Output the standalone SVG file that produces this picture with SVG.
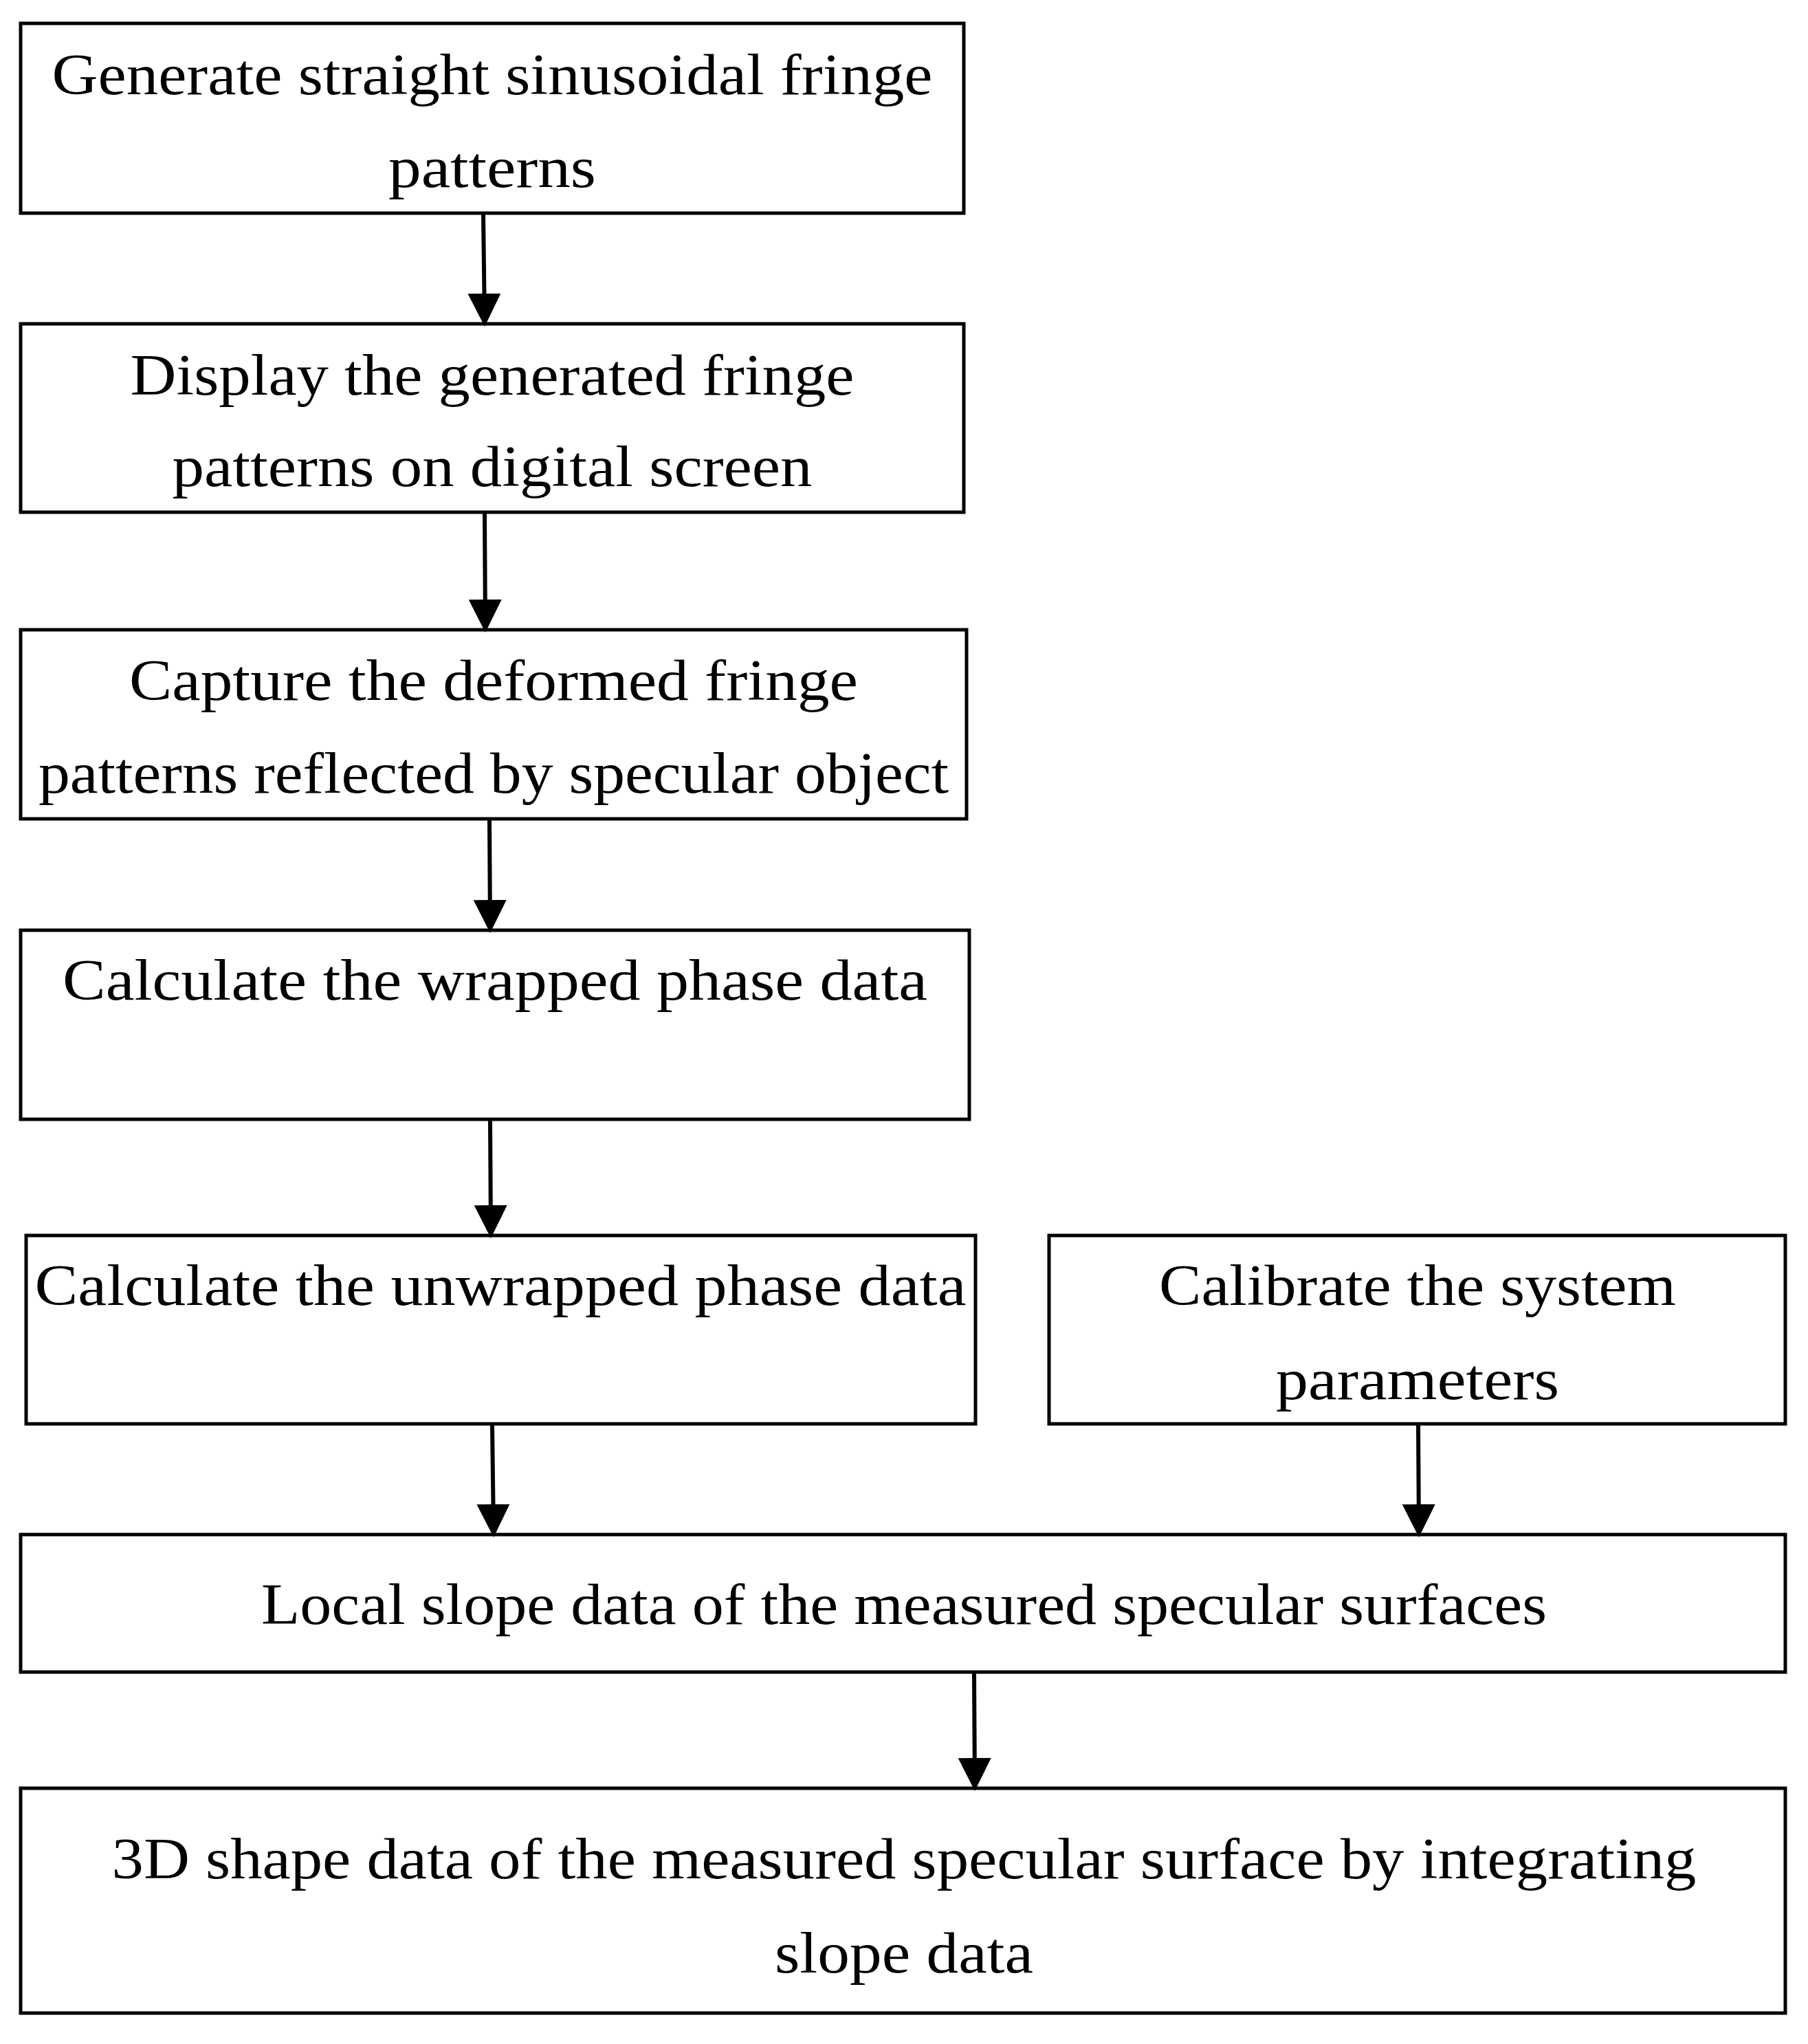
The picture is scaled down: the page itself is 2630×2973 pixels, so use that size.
<svg xmlns="http://www.w3.org/2000/svg" width="2630" height="2973" viewBox="0 0 2630 2973">
<style>
rect{fill:#fff;stroke:#000;stroke-width:5}
text{font-family:"Liberation Serif",serif;font-size:84px;text-anchor:middle;fill:#000}
.c line{stroke:#000;stroke-width:6}
</style>
<defs><marker id="a" markerWidth="8" markerHeight="8" refX="7" refY="4" orient="auto" markerUnits="strokeWidth"><path d="M0,0 L8,4 L0,8 z" fill="#000"/></marker></defs>
<rect width="2630" height="2973" style="stroke:none"/>
<g id="n1"><rect x="30" y="34" width="1372" height="276"/><text x="716" y="137" textLength="1281" lengthAdjust="spacingAndGlyphs">Generate straight sinusoidal fringe</text><text x="716" y="272" textLength="302" lengthAdjust="spacingAndGlyphs">patterns</text></g>
<g id="n2"><rect x="30" y="471" width="1372" height="274"/><text x="716" y="574" textLength="1053" lengthAdjust="spacingAndGlyphs">Display the generated fringe</text><text x="716" y="707" textLength="931" lengthAdjust="spacingAndGlyphs">patterns on digital screen</text></g>
<g id="n3"><rect x="30" y="916" width="1376" height="275"/><text x="718" y="1018" textLength="1060" lengthAdjust="spacingAndGlyphs">Capture the deformed fringe</text><text x="718" y="1153" textLength="1324" lengthAdjust="spacingAndGlyphs">patterns reflected by specular object</text></g>
<g id="n4"><rect x="30" y="1353" width="1380" height="275"/><text x="720" y="1454" textLength="1258" lengthAdjust="spacingAndGlyphs">Calculate the wrapped phase data</text></g>
<g id="n5"><rect x="38" y="1797" width="1381" height="274"/><text x="728" y="1898" textLength="1355" lengthAdjust="spacingAndGlyphs">Calculate the unwrapped phase data</text></g>
<g id="n6"><rect x="1526" y="1797" width="1071" height="274"/><text x="2062" y="1898" textLength="752" lengthAdjust="spacingAndGlyphs">Calibrate the system</text><text x="2062" y="2035" textLength="412" lengthAdjust="spacingAndGlyphs">parameters</text></g>
<g id="n7"><rect x="30" y="2232" width="2567" height="200"/><text x="1315" y="2362" textLength="1870" lengthAdjust="spacingAndGlyphs">Local slope data of the measured specular surfaces</text></g>
<g id="n8"><rect x="30" y="2601" width="2567" height="327"/><text x="1315" y="2732" textLength="2305" lengthAdjust="spacingAndGlyphs">3D shape data of the measured specular surface by integrating</text><text x="1315" y="2869" textLength="376" lengthAdjust="spacingAndGlyphs">slope data</text></g>
<g class="c">
<line x1="703" y1="312" x2="705" y2="469" marker-end="url(#a)"/>
<line x1="705" y1="747" x2="706" y2="914" marker-end="url(#a)"/>
<line x1="712" y1="1193" x2="713" y2="1351" marker-end="url(#a)"/>
<line x1="713" y1="1630" x2="714" y2="1795" marker-end="url(#a)"/>
<line x1="716" y1="2073" x2="718" y2="2230" marker-end="url(#a)"/>
<line x1="2063" y1="2073" x2="2064" y2="2230" marker-end="url(#a)"/>
<line x1="1417" y1="2434" x2="1418" y2="2599" marker-end="url(#a)"/>
</g>
</svg>
